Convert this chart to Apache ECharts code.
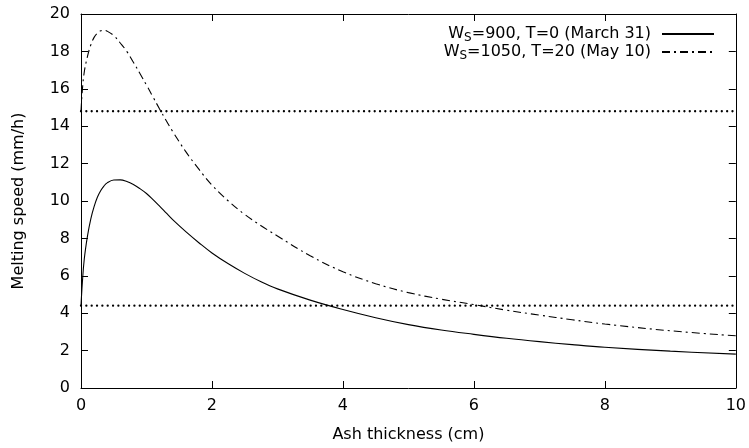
<!DOCTYPE html>
<html>
<head>
<meta charset="utf-8">
<script src="https://cdn.jsdelivr.net/npm/echarts@6/dist/echarts.min.js"></script>
<style>html,body{margin:0;padding:0;background:#fff}#c{width:749px;height:448px}</style>
</head>
<body>
<div id="c"></div>
<script>
// Ash thickness (cm)
var xs = [0, 0.02, 0.05, 0.1, 0.15, 0.2, 0.25, 0.3, 0.35, 0.4, 0.5, 0.6, 0.7, 0.8, 0.9, 1.0, 1.1, 1.2, 1.3, 1.4, 1.6, 1.8, 2.0, 2.25, 2.5, 2.75, 3.0, 3.5, 4.0, 4.5, 5.0, 5.5, 6.0, 6.5, 7.0, 7.5, 8.0, 9.0, 10.0];
// Melting speed (mm/h), W_S=900, T=0
var march = [4.4, 5.6, 6.9, 8.15, 9.05, 9.7, 10.2, 10.55, 10.8, 10.97, 11.12, 11.13, 11.04, 10.88, 10.66, 10.4, 10.07, 9.72, 9.36, 9.0, 8.36, 7.77, 7.22, 6.64, 6.13, 5.68, 5.3, 4.7, 4.2, 3.76, 3.39, 3.1, 2.87, 2.66, 2.48, 2.32, 2.18, 1.97, 1.81];
// Melting speed (mm/h), W_S=1050, T=20
var may = [14.8, 15.9, 16.9, 17.75, 18.35, 18.75, 18.98, 19.1, 19.13, 19.08, 18.85, 18.45, 18.0, 17.42, 16.82, 16.2, 15.56, 14.92, 14.31, 13.72, 12.64, 11.7, 10.85, 10.0, 9.28, 8.68, 8.13, 7.07, 6.22, 5.58, 5.1, 4.75, 4.46, 4.16, 3.9, 3.65, 3.42, 3.06, 2.79];
// Reference levels (dotted)
var refLevels = [14.8, 4.4];
var seriesNames = ['W_S=900, T=0 (March 31)', 'W_S=1050, T=20 (May 10)'];
var xRange = [0, 10];
var yRange = [0, 20];
var xTicks = [0, 2, 4, 6, 8, 10];
var yTicks = [0, 2, 4, 6, 8, 10, 12, 14, 16, 18, 20];

function zip(a, b) { return a.map(function (v, i) { return [v, b[i]]; }); }

var FONT = 'DejaVu Sans';
function axisBase(extra) {
  var o = {
    type: 'value',
    axisLine: { show: true, onZero: false, lineStyle: { color: '#000', width: 1 } },
    axisTick: { show: true, inside: true, length: 7, lineStyle: { color: '#000', width: 1 } },
    splitLine: { show: false }
  };
  for (var k in extra) o[k] = extra[k];
  return o;
}

var series = [
  {
    name: seriesNames[0], type: 'line', data: zip(xs, march), showSymbol: false, symbol: 'none',
    smooth: 0.4, lineStyle: { color: '#000', width: 1.1, type: 'solid' }, itemStyle: { color: '#000' }, z: 3
  },
  {
    name: seriesNames[1], type: 'line', data: zip(xs, may), showSymbol: false, symbol: 'none',
    smooth: 0.4, lineStyle: { color: '#000', width: 1.1, type: [8, 4, 2, 4] }, itemStyle: { color: '#000' }, z: 3
  }
];
refLevels.forEach(function (lvl, i) {
  series.push({
    name: 'ref' + i, type: 'line', data: [[xRange[0], lvl], [xRange[1], lvl]], symbol: 'none', silent: true,
    lineStyle: { color: '#000', width: 2.3, type: [0.01, 5.33], cap: 'round' }, z: 2
  });
});

var option = {
  animation: false,
  backgroundColor: '#fff',
  textStyle: { fontFamily: FONT },
  grid: { left: 81, right: 13, top: 14, bottom: 58, containLabel: false },
  legend: {
    data: seriesNames,
    orient: 'vertical',
    right: 34, top: 26, padding: 0,
    align: 'right',
    itemWidth: 52, itemHeight: 14, itemGap: 0,
    itemStyle: { opacity: 0 },
    textStyle: {
      fontFamily: FONT, fontSize: 16, color: '#000', padding: [0, 6, 0, 0],
      rich: {
        n: { fontFamily: FONT, fontSize: 16, color: '#000' },
        s: { fontFamily: FONT, fontSize: 12, color: '#000', padding: [8, 0, 0, 0] }
      }
    },
    formatter: function (name) {
      var parts = name.split('_');
      var rest = parts[1];
      return '{n|' + parts[0] + '}{s|' + rest.charAt(0) + '}{n|' + rest.slice(1) + '}';
    }
  },
  xAxis: [
    axisBase({
      position: 'bottom', min: xRange[0], max: xRange[1], interval: 2,
      name: 'Ash thickness (cm)', nameLocation: 'middle', nameGap: 39,
      nameTextStyle: { fontFamily: FONT, fontSize: 16, color: '#000' },
      axisLabel: { fontFamily: FONT, fontSize: 16, color: '#000', margin: 10,
        formatter: function (v) { return xTicks.indexOf(v) >= 0 ? String(v) : ''; } }
    }),
    axisBase({
      position: 'top', min: xRange[0], max: xRange[1], interval: 2, axisLabel: { show: false }
    })
  ],
  yAxis: [
    axisBase({
      position: 'left', min: yRange[0], max: yRange[1], interval: 2,
      name: 'Melting speed (mm/h)', nameLocation: 'middle', nameGap: 54,
      nameTextStyle: { fontFamily: FONT, fontSize: 16, color: '#000' },
      axisLabel: { fontFamily: FONT, fontSize: 16, color: '#000', margin: 11,
        formatter: function (v) { return yTicks.indexOf(v) >= 0 ? String(v) : ''; } }
    }),
    axisBase({
      position: 'right', min: yRange[0], max: yRange[1], interval: 2, axisLabel: { show: false }
    })
  ],
  series: series
};

var chart = echarts.init(document.getElementById('c'), null, { renderer: 'canvas' });
chart.setOption(option);
</script>
</body>
</html>
